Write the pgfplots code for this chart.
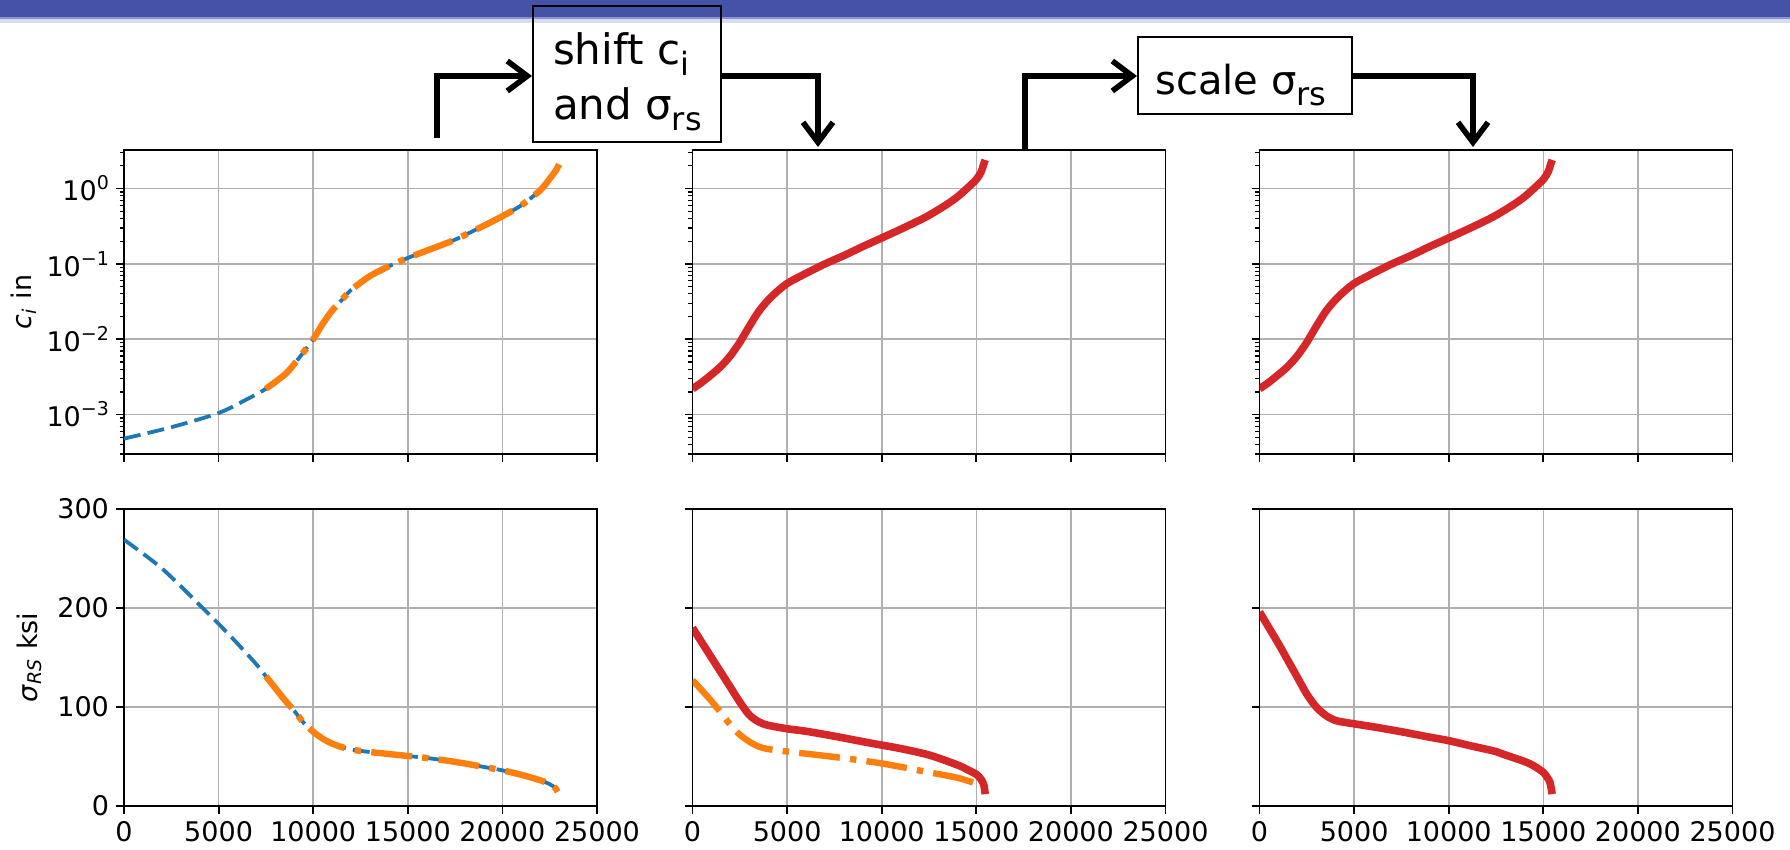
\documentclass[border=0pt]{standalone}
\usepackage{fontspec}
\usepackage{pgfplots}
\pgfplotsset{compat=1.18}
\usetikzlibrary{arrows.meta}
\setmainfont{DejaVu Sans}
\newfontfamily\tickfam{DejaVu Sans}
\newfontfamily\boxfam{DejaVu Sans}
\definecolor{mplblue}{HTML}{1F77B4}
\definecolor{mplorange}{HTML}{FF7F0E}
\definecolor{mplred}{HTML}{D62728}
\definecolor{gridgray}{HTML}{B0B0B0}
\definecolor{barblue}{HTML}{4452A8}
\definecolor{barmid}{HTML}{8A92D0}
\definecolor{barlight}{HTML}{D8DBF0}
\newcommand{\tf}{\tickfam\fontsize{13.5}{16}\selectfont}
\newcommand{\sub}[1]{\raisebox{-5.5pt}{\fontsize{16}{16}\selectfont #1}}
\newcommand{\tsup}[1]{\raisebox{5.5pt}{\fontsize{9.5}{9.5}\selectfont #1}}
\pgfplotsset{
  panel/.style={scale only axis, width=236.5pt, anchor=south west,
    xmin=0, xmax=25000, xtick={0,5000,10000,15000,20000,25000},
    axis line style={line width=0.9pt},
    tick align=outside, xtick pos=bottom, ytick pos=left,
    major tick length=4pt, minor tick length=2.2pt,
    major tick style={black, line width=0.9pt},
    minor tick style={black, line width=0.6pt},
    xmajorgrids, ymajorgrids,
    major grid style={gridgray, line width=0.8pt},
    tick label style={font=\tf},
    scaled x ticks=false,
  },
  toprow/.style={panel, height=152pt, ymin=3e-4, ymax=3.25,
    ytick={1e-3,1e-2,1e-1,1},
    minor ytick={3e-4,4e-4,5e-4,6e-4,7e-4,8e-4,9e-4,2e-3,3e-3,4e-3,5e-3,6e-3,7e-3,8e-3,9e-3,2e-2,3e-2,4e-2,5e-2,6e-2,7e-2,8e-2,9e-2,0.2,0.3,0.4,0.5,0.6,0.7,0.8,0.9,2,3},
    xticklabels={}},
  botrow/.style={panel, height=148.5pt, ymin=0, ymax=300, ytick={0,100,200,300},
    xticklabels={0,5000,10000,15000,20000,25000}},
  bluedash/.style={mplblue, line width=1.9pt, dash pattern=on 8.5pt off 3.6pt, line join=round, smooth, tension=0.5},
  orangedd/.style={mplorange, line width=3.2pt, dash pattern=on 20.5pt off 5.1pt on 3.2pt off 5.1pt, line join=round, smooth, tension=0.5},
  redline/.style={mplred, line width=3.8pt, line join=round, smooth, tension=0.5},
}
\begin{document}
\begin{tikzpicture}
\path[use as bounding box] (0pt,0pt) rectangle (895pt,425pt);
% header bar
\fill[barlight] (0pt,413.5pt) rectangle (895pt,416pt);
\fill[barmid] (0pt,415.5pt) rectangle (895pt,417pt);
\fill[barblue] (0pt,416.5pt) rectangle (895pt,425pt);

% ---------- top left
\begin{axis}[ymode=log, toprow, at={(62pt,198pt)},
  yticklabels={10\tsup{−3},10\tsup{−2},10\tsup{−1},10\tsup{0}},
  ylabel={\textit{c}\textsubscript{\textit{i}} in},
  ylabel style={at={(axis description cs:-0.212,0.5)}, anchor=center, font=\tf}]
\addplot[bluedash] coordinates {(0,4.8e-4) (2500,6.8e-4) (5000,1.05e-3) (6500,1.6e-3) (7500,2.2e-3) (8500,3.4e-3) (9000,4.7e-3) (9500,6.8e-3) (10000,1.0e-2) (10500,1.6e-2) (11000,2.4e-2) (11500,3.3e-2) (12000,4.5e-2) (13000,6.9e-2) (14000,9.3e-2) (15000,0.12) (16000,0.15) (17500,0.21) (19000,0.32) (20000,0.43) (21000,0.6) (22000,0.95) (22500,1.35) (22800,1.7) (23000,2.1)};
\addplot[orangedd] coordinates {(7500,2.2e-3) (8500,3.4e-3) (9000,4.7e-3) (9500,6.8e-3) (10000,1.0e-2) (10500,1.6e-2) (11000,2.4e-2) (11500,3.3e-2) (12000,4.5e-2) (13000,6.9e-2) (14000,9.3e-2) (15000,0.12) (16000,0.15) (17500,0.21) (19000,0.32) (20000,0.43) (21000,0.6) (22000,0.95) (22500,1.35) (22800,1.7) (23000,2.1)};
\end{axis}

% ---------- top middle
\begin{axis}[ymode=log, toprow, at={(346.25pt,198pt)}, yticklabels={}]
\addplot[redline] coordinates {(0,2.2e-3) (500,2.69e-3) (1000,3.39e-3) (1500,4.37e-3) (2000,6.03e-3) (2500,9.12e-3) (3000,1.48e-2) (3500,2.34e-2) (4000,3.31e-2) (4500,4.37e-2) (5000,5.5e-2) (5500,6.46e-2) (6000,7.5e-2) (7000,0.100) (8000,0.129) (9000,0.17) (10000,0.221) (11000,0.288) (12000,0.38) (12500,0.442) (13000,0.525) (13500,0.63) (14000,0.776) (14500,1.0) (15000,1.32) (15250,1.66) (15400,2.14) (15470,2.4)};
\end{axis}

% ---------- top right
\begin{axis}[ymode=log, toprow, at={(629.75pt,198pt)}, yticklabels={}]
\addplot[redline] coordinates {(0,2.2e-3) (500,2.69e-3) (1000,3.39e-3) (1500,4.37e-3) (2000,6.03e-3) (2500,9.12e-3) (3000,1.48e-2) (3500,2.34e-2) (4000,3.31e-2) (4500,4.37e-2) (5000,5.5e-2) (5500,6.46e-2) (6000,7.5e-2) (7000,0.100) (8000,0.129) (9000,0.17) (10000,0.221) (11000,0.288) (12000,0.38) (12500,0.442) (13000,0.525) (13500,0.63) (14000,0.776) (14500,1.0) (15000,1.32) (15250,1.66) (15400,2.14) (15470,2.4)};
\end{axis}

% ---------- bottom left
\begin{axis}[botrow, at={(62pt,22pt)},
  yticklabels={0,100,200,300},
  ylabel={\textit{σ}\textsubscript{\textit{RS}} ksi},
  ylabel style={at={(axis description cs:-0.2,0.5)}, anchor=center, font=\tf}]
\addplot[bluedash] coordinates {(0,269) (1000,255) (2000,240) (3000,222) (4000,203) (5000,184) (6000,164) (7000,143) (7500,131) (8000,119) (8500,107) (9000,96) (9500,84) (10000,75) (10500,68) (11000,63) (11500,59.5) (12000,57) (13000,54.5) (14000,52.5) (15000,50.5) (16000,48.5) (17000,46) (18000,43) (19000,39.5) (20000,36) (21000,31.5) (22000,26) (22500,22) (22800,18) (23000,11)};
\addplot[orangedd] coordinates {(7500,131) (8000,119) (8500,107) (9000,96) (9500,84) (10000,75) (10500,68) (11000,63) (11500,59.5) (12000,57) (13000,54.5) (14000,52.5) (15000,50.5) (16000,48.5) (17000,46) (18000,43) (19000,39.5) (20000,36) (21000,31.5) (22000,26) (22500,22) (22800,18) (23000,11)};
\end{axis}

% ---------- bottom middle
\begin{axis}[botrow, at={(346.25pt,22pt)}, yticklabels={}]
\addplot[orangedd] coordinates {(0,127) (1000,106) (2000,82) (2500,72) (3000,65) (3500,60) (4000,57.5) (5000,55) (7500,49.5) (10000,43) (12500,34) (14000,28.5) (15000,22.5) (15200,20)};
\addplot[redline] coordinates {(0,180) (500,165) (1000,150) (1500,135) (2000,120) (2500,105) (3000,92) (3500,85) (4000,81.5) (5000,78) (6000,75.5) (7500,70.5) (9000,65) (10000,61.5) (11000,58) (12500,51.5) (14000,41.5) (14500,37) (15000,32) (15250,27) (15400,21) (15470,12)};
\end{axis}

% ---------- bottom right
\begin{axis}[botrow, at={(629.75pt,22pt)}, yticklabels={}]
\addplot[redline] coordinates {(0,196) (500,180) (1000,164) (1500,147) (2000,130) (2500,113) (3000,100) (3500,91.5) (4000,86.5) (4500,84.5) (5000,83) (6000,80) (7500,75) (9000,69.5) (10000,66) (11000,61.5) (12500,55) (13000,51.5) (14000,45) (14500,40.5) (15000,34) (15200,29) (15350,24) (15470,12)};
\end{axis}

% ---------- flow boxes and arrows
\draw[line width=1pt] (266.5pt,422pt) rectangle (360.5pt,354pt);
\draw[line width=1pt, fill=white] (569pt,406.5pt) rectangle (676pt,368pt);
\node[anchor=base west, inner sep=0pt, font=\boxfam\fontsize{21}{25}\selectfont] at (276.3pt,392.5pt) {shift c\sub{i}};
\node[anchor=base west, inner sep=0pt, font=\boxfam\fontsize{21}{25}\selectfont] at (276.3pt,365pt) {and σ\sub{rs}};
\node[anchor=base west, inner sep=0pt, font=\boxfam\fontsize{20}{24}\selectfont] at (577.5pt,377.5pt) {scale σ\sub{rs}};
\tikzset{flow/.style={line width=2.8pt, line join=miter, -{Straight Barb[length=10pt,width=15pt]}}}
\draw[flow] (218.5pt,356pt) -- (218.5pt,387pt) -- (266pt,387pt);
\draw[flow] (360.5pt,387pt) -- (409pt,387pt) -- (409pt,351.5pt);
\draw[flow] (512.5pt,350pt) -- (512.5pt,387pt) -- (568.5pt,387pt);
\draw[flow] (676pt,387pt) -- (736.5pt,387pt) -- (736.5pt,351.5pt);
\end{tikzpicture}
\end{document}
